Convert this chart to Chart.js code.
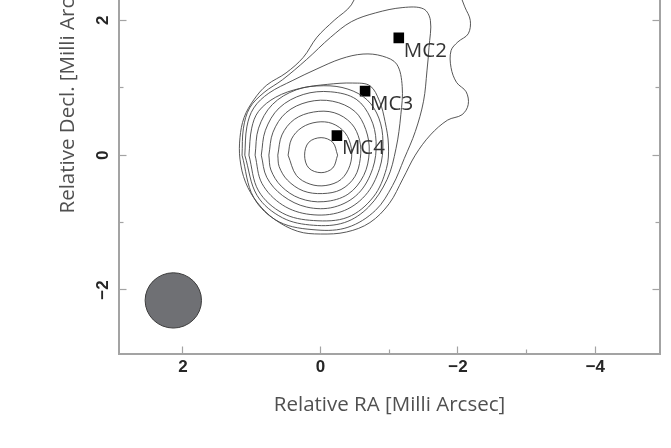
<!DOCTYPE html>
<html>
<head>
<meta charset="utf-8">
<script src="https://cdn.jsdelivr.net/npm/chart.js@4.4.1/dist/chart.umd.min.js"></script>
<style>
  html, body { margin: 0; padding: 0; background: #ffffff; overflow: hidden; width: 671px; height: 448px; }
  #wrap { position: absolute; left: 0; top: -187px; width: 671px; height: 635px; }
</style>
</head>
<body>
<div id="wrap"><canvas id="c" width="671" height="635"></canvas></div>
<script>
// ---- data (milli-arcsec, RA increases to the left) ----
const xTickLabels = [2, 0, -2, -4];
const xMinorTicks = [-3, -1];
const yTickLabels = [-2, 0, 2, 4];
const yMinorTicks = [-1, 1, 3];

const componentNames = ["MC2", "MC3", "MC4"];
const componentRA   = [-1.14, -0.65, -0.24];
const componentDec  = [1.74, 0.95, 0.29];

const beamRA = 2.14, beamDec = -2.155, beamMajor = 0.82, beamMinor = 0.82;

const contour1 = [[-0.25,0],[-0.18,0.19],[-0.01,0.26],[0.17,0.19],[0.23,0],[0.17,-0.19],[-0.01,-0.26],[-0.18,-0.19],[-0.25,0]];
const contour2 = [[0.47,0],[0.42,0.24],[0.27,0.41],[0.05,0.49],[-0.17,0.47],[-0.36,0.33],[-0.45,0.1],[-0.43,-0.15],[-0.3,-0.36],[-0.08,-0.45],[0.15,-0.43],[0.35,-0.3],[0.47,0]];
const contour3 = [[0.62,0],[0.56,0.3],[0.38,0.53],[0.1,0.64],[-0.2,0.63],[-0.45,0.47],[-0.57,0.22],[-0.58,-0.05],[-0.5,-0.32],[-0.3,-0.51],[-0.03,-0.57],[0.25,-0.53],[0.48,-0.37],[0.6,-0.17],[0.62,0]];
const contour4 = [[0.75,0],[0.69,0.34],[0.5,0.63],[0.18,0.79],[-0.18,0.8],[-0.5,0.65],[-0.66,0.38],[-0.71,0.05],[-0.63,-0.3],[-0.4,-0.58],[-0.05,-0.69],[0.3,-0.64],[0.57,-0.46],[0.72,-0.22],[0.75,0]];
const contour5 = [[0.86,0],[0.8,0.37],[0.6,0.7],[0.25,0.9],[-0.15,0.94],[-0.52,0.83],[-0.73,0.55],[-0.81,0.2],[-0.76,-0.2],[-0.55,-0.57],[-0.2,-0.77],[0.2,-0.77],[0.55,-0.6],[0.78,-0.33],[0.86,0]];
const contour6 = [[0.95,0],[0.9,0.4],[0.7,0.75],[0.35,0.97],[-0.05,1.03],[-0.4,0.98],[-0.68,0.82],[-0.85,0.55],[-0.91,0.2],[-0.86,-0.2],[-0.65,-0.6],[-0.3,-0.84],[0.15,-0.88],[0.55,-0.74],[0.85,-0.42],[0.95,0]];
const contour7 = [[1.04,0],[1.0,0.4],[0.9,0.65],[0.65,0.86],[0.3,0.99],[-0.1,1.05],[-0.47,1.07],[-0.72,1.03],[-0.86,0.8],[-0.94,0.5],[-0.99,0.15],[-0.96,-0.2],[-0.77,-0.62],[-0.4,-0.92],[0.1,-0.97],[0.55,-0.86],[0.9,-0.53],[1.04,0]];
const contour8 = [[1.10,0],[1.07,0.42],[0.97,0.7],[0.75,0.92],[0.4,1.11],[0.05,1.28],[-0.3,1.43],[-0.62,1.5],[-0.9,1.47],[-1.11,1.35],[-1.19,1.02],[-1.17,0.6],[-1.1,0.1],[-0.97,-0.36],[-0.7,-0.77],[-0.35,-1.0],[0.1,-1.04],[0.55,-0.93],[0.92,-0.6],[1.10,0]];
const contour9 = [[1.14,0],[1.12,0.4],[1.03,0.7],[0.82,0.93],[0.55,1.12],[0.2,1.42],[-0.15,1.75],[-0.45,1.98],[-0.8,2.11],[-1.2,2.19],[-1.5,2.17],[-1.6,2.0],[-1.58,1.6],[-1.55,1.25],[-1.5,0.8],[-1.38,0.35],[-1.22,-0.05],[-1.05,-0.45],[-0.8,-0.82],[-0.4,-1.07],[0.05,-1.11],[0.6,-0.99],[0.97,-0.63],[1.14,0]];
const contour10 = [[-0.6,2.6],[-0.45,2.23],[-0.2,2.0],[0.05,1.75],[0.25,1.45],[0.5,1.22],[0.78,1.04],[0.97,0.82],[1.11,0.56],[1.17,0.26],[1.17,-0.06],[1.09,-0.4],[0.92,-0.7],[0.67,-0.95],[0.33,-1.13],[0.0,-1.17],[-0.38,-1.14],[-0.72,-1.0],[-1.0,-0.72],[-1.2,-0.35],[-1.38,0.0],[-1.6,0.3],[-1.85,0.52],[-2.06,0.6],[-2.15,0.75],[-2.12,0.94],[-1.98,1.08],[-1.9,1.3],[-1.9,1.55],[-2.0,1.68],[-2.15,1.8],[-2.18,2.0],[-2.1,2.2],[-1.95,2.6]];

const contours = [contour1, contour2, contour3, contour4, contour5, contour6, contour7, contour8, contour9, contour10];

// ---- chart ----
const axisColor = '#a3a3a3';
const tickFont = { family: 'Liberation Sans', size: 17, weight: 'bold' };
const titleFont = { family: 'Open Sans', size: 20.5 };

function fmt(v) { return v < 0 ? '\u2212' + Math.abs(v) : String(v); }

const beamPlugin = {
  id: 'beam',
  beforeDatasetsDraw(chart) {
    const xs = chart.scales.x, ys = chart.scales.y, ctx = chart.ctx;
    const cx = xs.getPixelForValue(beamRA), cy = ys.getPixelForValue(beamDec);
    const rx = Math.abs(xs.getPixelForValue(beamRA + beamMinor / 2) - cx);
    const ry = Math.abs(ys.getPixelForValue(beamDec + beamMajor / 2) - cy);
    ctx.save();
    ctx.beginPath();
    ctx.ellipse(cx, cy, rx, ry, 0, 0, Math.PI * 2);
    ctx.fillStyle = '#6f7074';
    ctx.fill();
    ctx.lineWidth = 1;
    ctx.strokeStyle = '#3c3c3c';
    ctx.stroke();
    ctx.restore();
  }
};

const labelPlugin = {
  id: 'complabels',
  afterDatasetsDraw(chart) {
    const xs = chart.scales.x, ys = chart.scales.y, ctx = chart.ctx;
    ctx.save();
    ctx.font = '20.5px "Open Sans"';
    ctx.fillStyle = '#333333';
    ctx.textAlign = 'left';
    ctx.textBaseline = 'middle';
    componentNames.forEach((n, i) => {
      const px = xs.getPixelForValue(componentRA[i]);
      const py = ys.getPixelForValue(componentDec[i]);
      ctx.fillText(n, px + 5, py + 13);
    });
    ctx.restore();
  }
};

const datasets = contours.map(c => ({
  type: 'line',
  data: c.map(p => ({ x: p[0], y: p[1] })),
  showLine: true,
  borderColor: '#444444',
  borderWidth: 0.9,
  pointRadius: 0,
  tension: 0.35,
  fill: false
}));
datasets.push({
  type: 'scatter',
  data: componentRA.map((x, i) => ({ x: x, y: componentDec[i] })),
  pointStyle: 'rect',
  pointRadius: 7.5,
  backgroundColor: '#000000',
  borderColor: '#000000',
  borderWidth: 0
});

function setTicks(vals) { return (s) => { s.ticks = vals.map(v => ({ value: v })); }; }

const xRange = { min: -4.94, max: 2.93, reverse: true };
const yRange = { min: -2.95, max: 4.965 };

function minorAxis(pos, range, ticks, horizontal) {
  return {
    type: 'linear', position: pos, weight: 0, ...range,
    afterBuildTicks: setTicks(ticks),
    ticks: { display: false },
    grid: { drawOnChartArea: false, drawTicks: true, tickLength: -4.5, tickColor: axisColor, tickWidth: 1.2 },
    border: { display: false },
    afterFit: (s) => {
      if (horizontal) { s.height = 0; s.paddingLeft = 0; s.paddingRight = 0; }
      else { s.width = 0; s.paddingTop = 0; s.paddingBottom = 0; }
    }
  };
}

new Chart(document.getElementById('c'), {
  type: 'scatter',
  data: { datasets },
  options: {
    responsive: false,
    animation: false,
    events: [],
    layout: { padding: { left: 0, right: 11, top: 0, bottom: 0 } },
    plugins: { legend: { display: false }, tooltip: { enabled: false } },
    scales: {
      xm: minorAxis('bottom', xRange, xMinorTicks, true),
      x: {
        type: 'linear', position: 'bottom', weight: 1, ...xRange,
        afterBuildTicks: setTicks(xTickLabels),
        ticks: { callback: (v) => fmt(v), font: tickFont, color: '#262626', padding: 11, maxRotation: 0, autoSkip: false },
        grid: { drawOnChartArea: false, drawTicks: true, tickLength: -7.5, tickColor: axisColor, tickWidth: 1.2 },
        border: { display: true, color: axisColor, width: 2 },
        title: { display: true, text: 'Relative RA [Milli Arcsec]', font: titleFont, color: '#505050', padding: { top: 0, bottom: 31 } },
        afterFit: (s) => { s.height = 94; s.paddingLeft = 0; s.paddingRight = 0; }
      },
      ym: minorAxis('left', yRange, yMinorTicks, false),
      y: {
        type: 'linear', position: 'left', weight: 1, ...yRange,
        afterBuildTicks: setTicks(yTickLabels),
        ticks: { callback: (v) => fmt(v), font: tickFont, color: '#262626', padding: 13, minRotation: 90, maxRotation: 90, crossAlign: 'center', autoSkip: false },
        grid: { drawOnChartArea: false, drawTicks: true, tickLength: -7.5, tickColor: axisColor, tickWidth: 1.2 },
        border: { display: true, color: axisColor, width: 2 },
        title: { display: true, text: 'Relative Decl. [Milli Arcsec]', font: titleFont, color: '#505050', padding: { top: 55.5, bottom: 0 } },
        afterFit: (s) => { s.width = 119; s.paddingTop = 0; s.paddingBottom = 0; }
      },
      yrm: minorAxis('right', yRange, yMinorTicks, false),
      yr: {
        type: 'linear', position: 'right', weight: 1, ...yRange,
        afterBuildTicks: setTicks(yTickLabels),
        ticks: { display: false },
        grid: { drawOnChartArea: false, drawTicks: true, tickLength: -7.5, tickColor: axisColor, tickWidth: 1.2 },
        border: { display: true, color: axisColor, width: 2 },
        afterFit: (s) => { s.width = 0; s.paddingTop = 0; s.paddingBottom = 0; }
      }
    }
  },
  plugins: [beamPlugin, labelPlugin]
});
</script>
</body>
</html>
